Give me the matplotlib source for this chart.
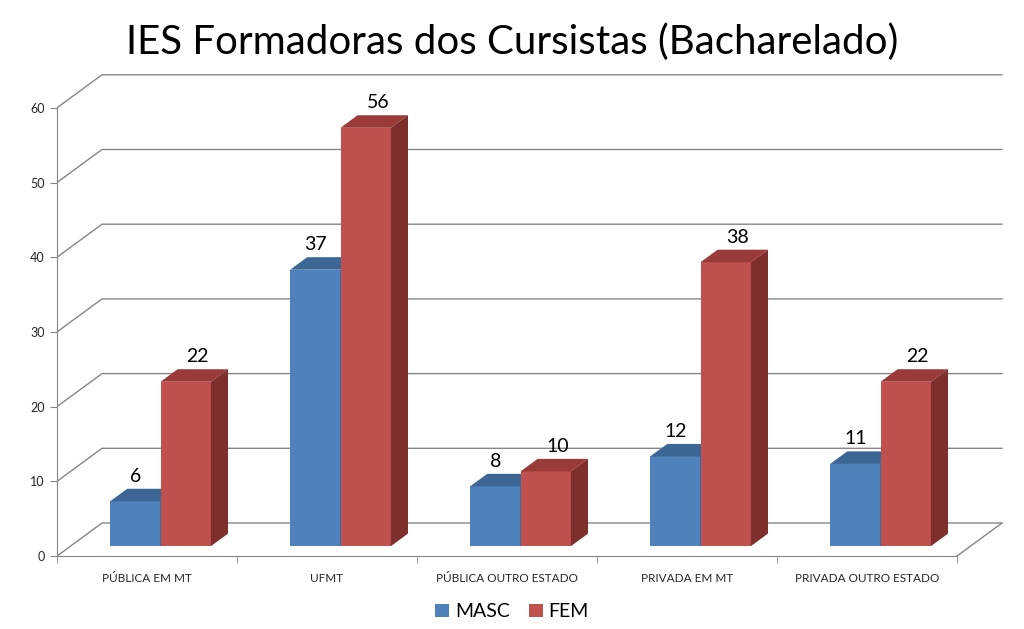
import matplotlib
matplotlib.use('Agg')
import matplotlib.pyplot as plt
from matplotlib.patches import Polygon, Patch

categories = ['PÚBLICA EM MT', 'UFMT', 'PÚBLICA OUTRO ESTADO', 'PRIVADA EM MT', 'PRIVADA OUTRO ESTADO']
masc = [6, 37, 8, 12, 11]
fem = [22, 56, 10, 38, 22]
series_names = ['MASC', 'FEM']
yticks = [0, 10, 20, 30, 40, 50, 60]

plt.rcParams['font.family'] = ['Lato', 'DejaVu Sans']

# fake 3D: depth offset of the back wall in data units
DX, DY = 0.25, 4.42
D0, D1 = 0.30, 0.68   # front / back depth of the bars
BW = 0.28             # bar width (category units)
GRID = '#868686'

# front, top, side colours
colors = {
    'MASC': ('#4F81BD', '#3C6795', '#2F5380'),
    'FEM': ('#C0504D', '#9A3B39', '#7E2F2D'),
}


def proj(x, y, d):
    return (x + d * DX, y + d * DY)


fig = plt.figure(figsize=(10.24, 6.29), dpi=100)
ax = fig.add_axes([57 / 1024, 64 / 629, 953 / 1024, 495 / 629])
n = len(categories)
ax.set_xlim(0, 953 / 180)
ax.set_ylim(-1.2, 65.06)

# back wall gridlines + floor
for v in yticks:
    ax.plot([0, DX, n + DX], [v, v + DY, v + DY], color=GRID, lw=1, zorder=1)
ax.plot([n + DX, n], [DY, 0], color=GRID, lw=1, zorder=1)

# bars
for i in range(n):
    for j, (name, vals) in enumerate(zip(series_names, [masc, fem])):
        v = vals[i]
        front, top, side = colors[name]
        x0 = i + 0.5 - BW + j * BW
        fx, fy = proj(x0, 0, D0)
        ax.bar(fx, v, width=BW, bottom=fy, align='edge', color=front, zorder=3 + j)
        ax.add_patch(Polygon([proj(x0, v, D0), proj(x0 + BW, v, D0),
                              proj(x0 + BW, v, D1), proj(x0, v, D1)],
                             closed=True, facecolor=top, edgecolor='none', zorder=3 + j))
        ax.add_patch(Polygon([proj(x0 + BW, 0, D0), proj(x0 + BW, v, D0),
                              proj(x0 + BW, v, D1), proj(x0 + BW, 0, D1)],
                             closed=True, facecolor=side, edgecolor='none', zorder=3 + j))
        lx, ly = proj(x0 + BW / 2, v, D1)
        lx = lx - (D1 - D0) * DX + j * 0.067
        ax.annotate(str(v), (lx, ly), xytext=(0, 5),
                    textcoords='offset points', ha='center', va='baseline',
                    fontsize=14, color='black', zorder=10)

# axes styling
for s in ['top', 'right']:
    ax.spines[s].set_visible(False)
ax.spines['left'].set_bounds(0, 60)
ax.spines['bottom'].set_position(('data', 0))
ax.spines['bottom'].set_bounds(0, n)
for s in ['left', 'bottom']:
    ax.spines[s].set_color(GRID)

ax.set_yticks(yticks)
ax.tick_params(axis='y', direction='out', length=5, color=GRID, labelsize=9,
               labelcolor='#262626', pad=4)
ax.set_xticks([i + 0.5 for i in range(n)])
ax.set_xticklabels(categories)
ax.set_xticks(range(n + 1), minor=True)
ax.tick_params(axis='x', which='major', length=0, labelsize=8.5, labelcolor='#262626', pad=12)
ax.tick_params(axis='x', which='minor', direction='out', length=5, color=GRID)

fig.text(0.5, 1 - 42 / 629, 'IES Formadoras dos Cursistas (Bacharelado)',
         ha='center', va='center', fontsize=29, color='black')

handles = [Patch(facecolor=colors[s][0], label=s) for s in series_names]
fig.legend(handles=handles, loc='lower center', bbox_to_anchor=(0.5, -0.014), ncol=2,
           frameon=False, fontsize=14, handlelength=0.7, handleheight=0.7,
           handletextpad=0.3, columnspacing=1.0)

fig.savefig('out.png', dpi=100)
